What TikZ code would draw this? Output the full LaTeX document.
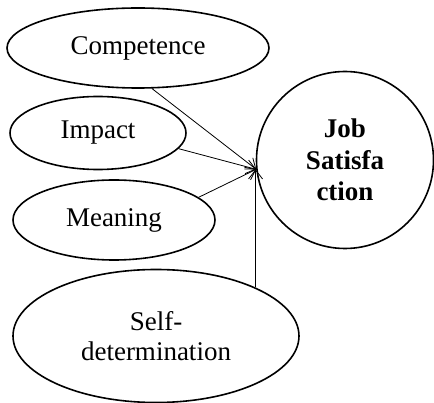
\documentclass[tikz,border=0pt]{standalone}
\usepackage{fontspec}
\setmainfont{Liberation Serif}
\usepackage{tikz}
\usetikzlibrary{
    arrows.meta,
    shapes.geometric
}

\begin{document}
\begin{tikzpicture}[x=1pt, y=-1pt,
        factor/.style={ellipse, draw, line width=1.6pt, inner sep=0pt, align=center,
            font=\fontsize{27}{30}\selectfont},
        outcome/.style={circle, draw, line width=1.6pt, inner sep=0pt, align=center,
            font=\fontsize{27}{31.5}\selectfont\bfseries},
        path/.style={line width=0.8pt, -{Straight Barb[length=9pt, width=14pt, line width=0.8pt]}}]
    \useasboundingbox (0, 0) rectangle (434, 403);
    \node[factor, minimum width=262, minimum height=80] (comp) at (138, 48) {Competence};
    \node[factor, minimum width=176, minimum height=73] (imp) at (98, 133) {Impact};
    \node[factor, minimum width=202, minimum height=80] (mean) at (114, 220) {Meaning};
    \node[factor, minimum width=286, minimum height=133] (self) at (156, 336) {Self-\\determination};
    \node[outcome, minimum size=177] (job) at (345, 160) {Job\\Satisfa\\ction};
    \coordinate (hub) at (job.186);
    \draw[path] (comp.-71) -- (hub);
    \draw[path] (imp.-11) -- (hub);
    \draw[path] (mean.15) -- (hub);
    \draw[path] (self.26) -- (self.26 |- hub);
\end{tikzpicture}
\end{document}
